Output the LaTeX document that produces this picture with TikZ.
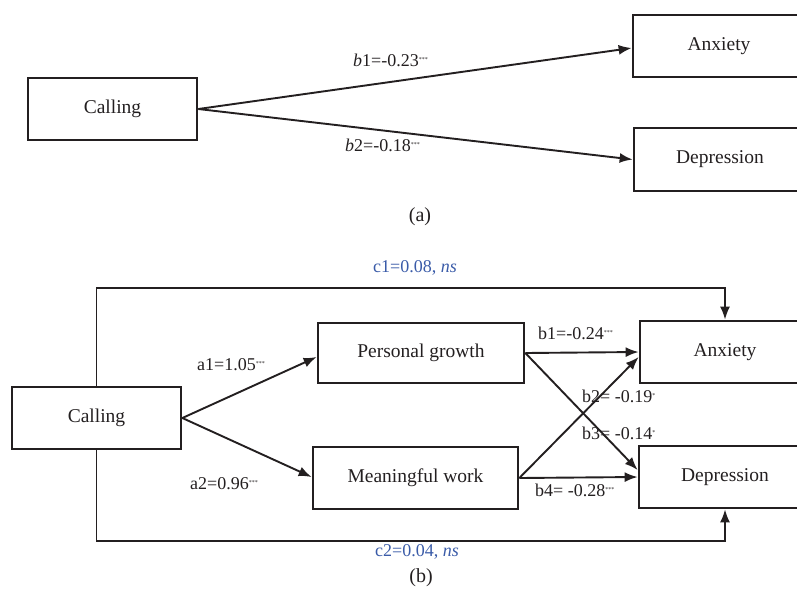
\documentclass[tikz,border=0pt]{standalone}
\usepackage{fontspec}
\setmainfont{Liberation Serif}
\usetikzlibrary{arrows.meta}
\definecolor{ink}{HTML}{231F20}
\definecolor{lblue}{HTML}{3A5BA8}
\newcommand{\stars}[1]{\raisebox{5pt}{\fontsize{6}{6}\selectfont #1}}
\begin{document}
\begin{tikzpicture}[x=1pt,y=-1pt,
  box/.style={draw=ink,line width=2.7pt,inner sep=0pt,font=\fontsize{19.5}{22}\selectfont,text=ink},
  arr/.style={draw=ink,line width=1.9pt,-{Latex[length=13pt,width=10pt]}},
  lbl/.style={inner sep=0pt,anchor=west,font=\fontsize{18}{20}\selectfont,text=ink},
  blbl/.style={lbl,text=lblue},
  figcap/.style={inner sep=0pt,font=\fontsize{20}{22}\selectfont,text=ink}]
\clip (0,0) rectangle (797,595);
% ---------- (a) ----------
\node[box,minimum width=169pt,minimum height=62pt] (ca) at (112.5,109) {Calling};
\node[box,minimum width=172pt,minimum height=62pt] (aa) at (719,46) {Anxiety};
\node[box,minimum width=172pt,minimum height=63pt] (da) at (720,159.5) {Depression};
\draw[arr] (ca.east) -- ([yshift=-2pt]aa.west);
\draw[arr] (ca.east) -- (da.west);
\node[lbl] (lb1a) at (353,60) {\textit{b}1=-0.23\stars{***}};
\node[lbl] (lb2a) at (345,145) {\textit{b}2=-0.18\stars{***}};
\node[figcap] (capa) at (420,217) {(a)};
% ---------- (b) ----------
\node[box,minimum width=169pt,minimum height=62pt] (cb) at (96.5,418) {Calling};
\node[box,minimum width=206pt,minimum height=60pt] (pg) at (421,353) {Personal growth};
\node[box,minimum width=205pt,minimum height=62pt] (mw) at (415.5,478) {Meaningful work};
\node[box,minimum width=170pt,minimum height=62pt] (ab) at (725,352) {Anxiety};
\node[box,minimum width=172pt,minimum height=62pt] (db) at (725,477) {Depression};
\coordinate (c1y) at (0,288);
\coordinate (c2y) at (0,541);
\draw[arr] (cb.east) -- ([yshift=-4pt]pg.west);
\draw[arr] (cb.east) -- ([yshift=1pt]mw.west);
\draw[arr] (pg.east) -- (ab.west);
\draw[arr] (pg.east) -- ([yshift=7pt]db.west);
\draw[arr] (mw.east) -- ([yshift=-5pt]ab.west);
\draw[arr] (mw.east) -- (db.west);
\draw[arr] (cb.north) -- (cb.north |- c1y) -| (ab.north);
\draw[arr] (cb.south) -- (cb.south |- c2y) -| (db.south);
\node[lbl] (la1) at (197,365) {a1=1.05\stars{***}};
\node[lbl] (la2) at (190,484) {a2=0.96\stars{***}};
\node[lbl] (lb1b) at (538,333) {b1=-0.24\stars{***}};
\node[lbl] (lb2b) at (582,396) {b2= -0.19\stars{*}};
\node[lbl] (lb3b) at (582,433) {b3= -0.14\stars{*}};
\node[lbl] (lb4b) at (535,490) {b4= -0.28\stars{***}};
\node[blbl] (lc1) at (373,268) {c1=0.08, \textit{ns}};
\node[blbl] (lc2) at (375,552) {c2=0.04, \textit{ns}};
\node[figcap] (capb) at (421,578) {(b)};
\end{tikzpicture}
\end{document}
